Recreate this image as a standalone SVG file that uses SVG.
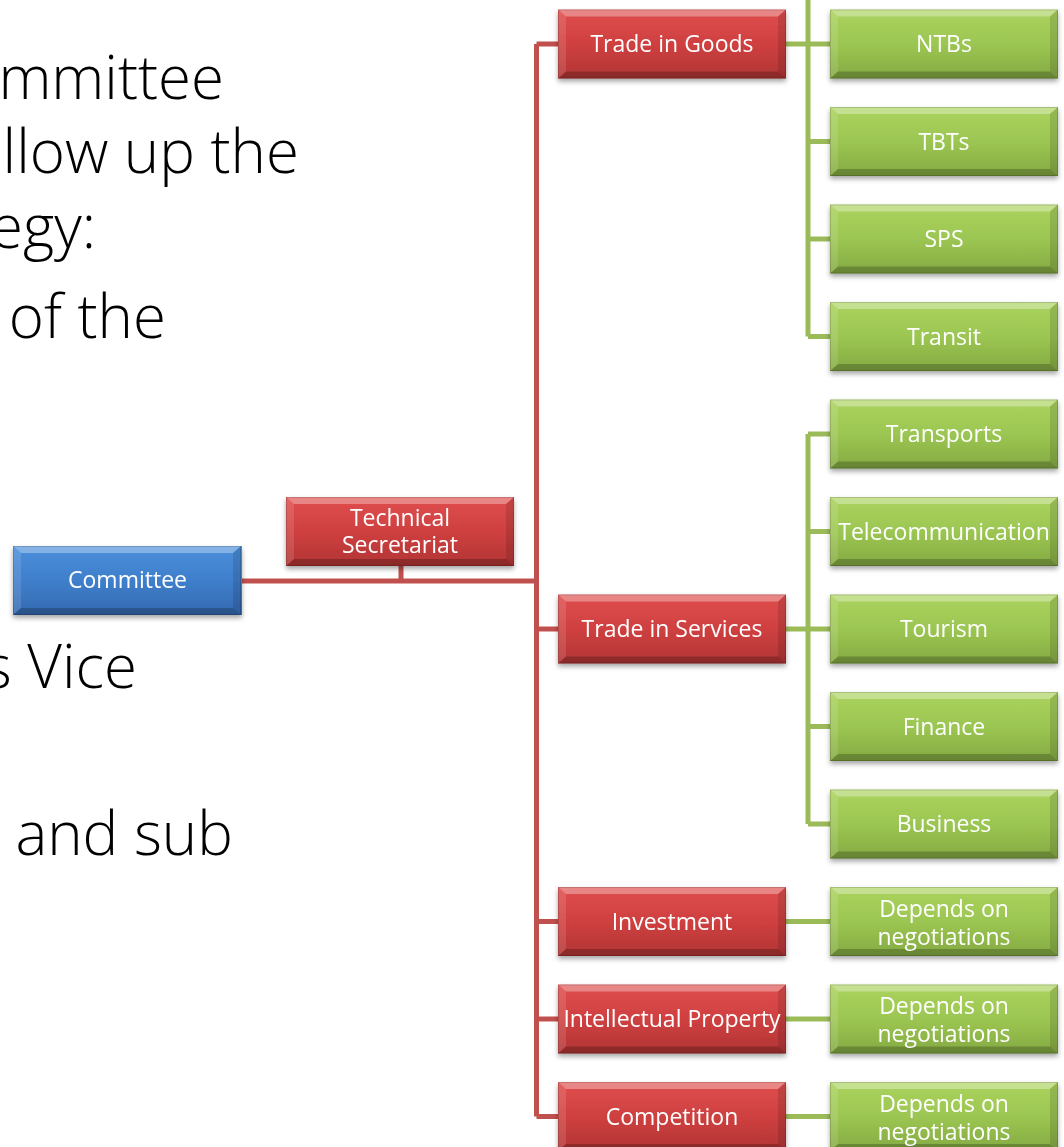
<svg xmlns="http://www.w3.org/2000/svg" xmlns:xlink="http://www.w3.org/1999/xlink" width="1064" height="1147" viewBox="0 0 1064 1147">
<style>
.big{font-family:"Open Sans","Liberation Sans",sans-serif;font-weight:300;font-size:60px;fill:#000;text-anchor:end}
.lbl{font-family:"Open Sans","Liberation Sans",sans-serif;font-size:23px;fill:#fff;text-anchor:middle}
.rl{stroke:#c0504d;stroke-width:5;fill:none}
.gl{stroke:#9bbb59;stroke-width:5;fill:none}
.red{fill:url(#gR)}
.grn{fill:url(#gG)}
.blu{fill:url(#gB)}
</style>
<defs>
<linearGradient id="gR" x1="0" y1="0" x2="0" y2="1"><stop offset="0" stop-color="#e04e4e"/><stop offset="0.5" stop-color="#cf4040"/><stop offset="1" stop-color="#b23434"/></linearGradient>
<linearGradient id="gG" x1="0" y1="0" x2="0" y2="1"><stop offset="0" stop-color="#abd35e"/><stop offset="0.5" stop-color="#9cc652"/><stop offset="1" stop-color="#84aa42"/></linearGradient>
<linearGradient id="gB" x1="0" y1="0" x2="0" y2="1"><stop offset="0" stop-color="#4b8fdc"/><stop offset="0.5" stop-color="#3f7fcb"/><stop offset="1" stop-color="#3469b0"/></linearGradient>
<filter id="sh" x="-10%" y="-20%" width="120%" height="150%"><feDropShadow dx="0" dy="3" stdDeviation="2.5" flood-color="#000" flood-opacity="0.35"/></filter>
<g id="bev">
<polygon points="0,0 228,0 220,7 8,7" fill="#fff" fill-opacity="0.32"/>
<polygon points="0,69 228,69 220,62 8,62" fill="#000" fill-opacity="0.22"/>
<polygon points="0,0 8,7 8,62 0,69" fill="#fff" fill-opacity="0.12"/>
<polygon points="228,0 220,7 220,62 228,69" fill="#000" fill-opacity="0.12"/>
<rect x="0.5" y="0.5" width="227" height="68" fill="none" stroke="#000" stroke-opacity="0.15"/>
</g>
</defs>
<rect width="1064" height="1147" fill="#fff"/>
<g id="slide-text">
<text class="big" x="224" y="99">mmittee</text>
<text class="big" x="299" y="173">llow up the</text>
<text class="big" x="96" y="248">egy:</text>
<text class="big" x="166" y="338">of the</text>
<text class="big" x="137" y="688">s Vice</text>
<text class="big" x="233" y="855">and sub</text>
</g>
<g id="connectors">
<path class="rl" d="M242,581 H536.5 M401,566 V581 M536.5,44 V1116.5 M536.5,44 H558 M536.5,629 H558 M536.5,921.5 H558 M536.5,1019 H558 M536.5,1116.5 H558"/>
<path class="gl" d="M808,0 V336.5 M786,44 H830 M808,141.5 H830 M808,239 H830 M808,336.5 H830"/>
<path class="gl" d="M808,434 V824 M786,629 H830 M808,434 H830 M808,531.5 H830 M808,726.5 H830 M808,824 H830"/>
<path class="gl" d="M786,921.5 H830 M786,1019 H830 M786,1116.5 H830"/>
</g>
<g id="committee" filter="url(#sh)">
<rect class="blu" x="13" y="546" width="229" height="69"/><use xlink:href="#bev" href="#bev" x="13" y="546"/>
<text class="lbl" x="127.5" y="588">Committee</text>
</g>
<g id="technical-secretariat" filter="url(#sh)">
<rect class="red" x="286" y="497" width="228" height="69"/><use xlink:href="#bev" href="#bev" x="286" y="497"/>
<text class="lbl" x="400" y="526">Technical</text>
<text class="lbl" x="400" y="553">Secretariat</text>
</g>
<g id="trade-in-goods" filter="url(#sh)">
<rect class="red" x="558" y="9.5" width="228" height="69"/><use xlink:href="#bev" href="#bev" x="558" y="9.5"/>
<text class="lbl" x="672" y="52">Trade in Goods</text>
</g>
<g id="trade-in-services" filter="url(#sh)">
<rect class="red" x="558" y="594.5" width="228" height="69"/><use xlink:href="#bev" href="#bev" x="558" y="594.5"/>
<text class="lbl" x="672" y="637">Trade in Services</text>
</g>
<g id="investment" filter="url(#sh)">
<rect class="red" x="558" y="887" width="228" height="69"/><use xlink:href="#bev" href="#bev" x="558" y="887"/>
<text class="lbl" x="672" y="929.5">Investment</text>
</g>
<g id="intellectual-property" filter="url(#sh)">
<rect class="red" x="558" y="984.5" width="228" height="69"/><use xlink:href="#bev" href="#bev" x="558" y="984.5"/>
<text class="lbl" x="672" y="1027">Intellectual Property</text>
</g>
<g id="competition" filter="url(#sh)">
<rect class="red" x="558" y="1082" width="228" height="69"/><use xlink:href="#bev" href="#bev" x="558" y="1082"/>
<text class="lbl" x="672" y="1124.5">Competition</text>
</g>
<g id="ntbs" filter="url(#sh)">
<rect class="grn" x="830" y="9.5" width="228" height="69"/><use xlink:href="#bev" href="#bev" x="830" y="9.5"/>
<text class="lbl" x="944" y="52">NTBs</text>
</g>
<g id="tbts" filter="url(#sh)">
<rect class="grn" x="830" y="107" width="228" height="69"/><use xlink:href="#bev" href="#bev" x="830" y="107"/>
<text class="lbl" x="944" y="149.5">TBTs</text>
</g>
<g id="sps" filter="url(#sh)">
<rect class="grn" x="830" y="204.5" width="228" height="69"/><use xlink:href="#bev" href="#bev" x="830" y="204.5"/>
<text class="lbl" x="944" y="247">SPS</text>
</g>
<g id="transit" filter="url(#sh)">
<rect class="grn" x="830" y="302" width="228" height="69"/><use xlink:href="#bev" href="#bev" x="830" y="302"/>
<text class="lbl" x="944" y="344.5">Transit</text>
</g>
<g id="transports" filter="url(#sh)">
<rect class="grn" x="830" y="399.5" width="228" height="69"/><use xlink:href="#bev" href="#bev" x="830" y="399.5"/>
<text class="lbl" x="944" y="442">Transports</text>
</g>
<g id="telecommunication" filter="url(#sh)">
<rect class="grn" x="830" y="497" width="228" height="69"/><use xlink:href="#bev" href="#bev" x="830" y="497"/>
<text class="lbl" x="944" y="539.5">Telecommunication</text>
</g>
<g id="tourism" filter="url(#sh)">
<rect class="grn" x="830" y="594.5" width="228" height="69"/><use xlink:href="#bev" href="#bev" x="830" y="594.5"/>
<text class="lbl" x="944" y="637">Tourism</text>
</g>
<g id="finance" filter="url(#sh)">
<rect class="grn" x="830" y="692" width="228" height="69"/><use xlink:href="#bev" href="#bev" x="830" y="692"/>
<text class="lbl" x="944" y="734.5">Finance</text>
</g>
<g id="business" filter="url(#sh)">
<rect class="grn" x="830" y="789.5" width="228" height="69"/><use xlink:href="#bev" href="#bev" x="830" y="789.5"/>
<text class="lbl" x="944" y="832">Business</text>
</g>
<g id="investment-detail" filter="url(#sh)">
<rect class="grn" x="830" y="887" width="228" height="69"/><use xlink:href="#bev" href="#bev" x="830" y="887"/>
<text class="lbl" x="944" y="916.5">Depends on</text>
<text class="lbl" x="944" y="944.5">negotiations</text>
</g>
<g id="ip-detail" filter="url(#sh)">
<rect class="grn" x="830" y="984.5" width="228" height="69"/><use xlink:href="#bev" href="#bev" x="830" y="984.5"/>
<text class="lbl" x="944" y="1014">Depends on</text>
<text class="lbl" x="944" y="1042">negotiations</text>
</g>
<g id="competition-detail" filter="url(#sh)">
<rect class="grn" x="830" y="1082" width="228" height="69"/><use xlink:href="#bev" href="#bev" x="830" y="1082"/>
<text class="lbl" x="944" y="1111.5">Depends on</text>
<text class="lbl" x="944" y="1139.5">negotiations</text>
</g>
</svg>
